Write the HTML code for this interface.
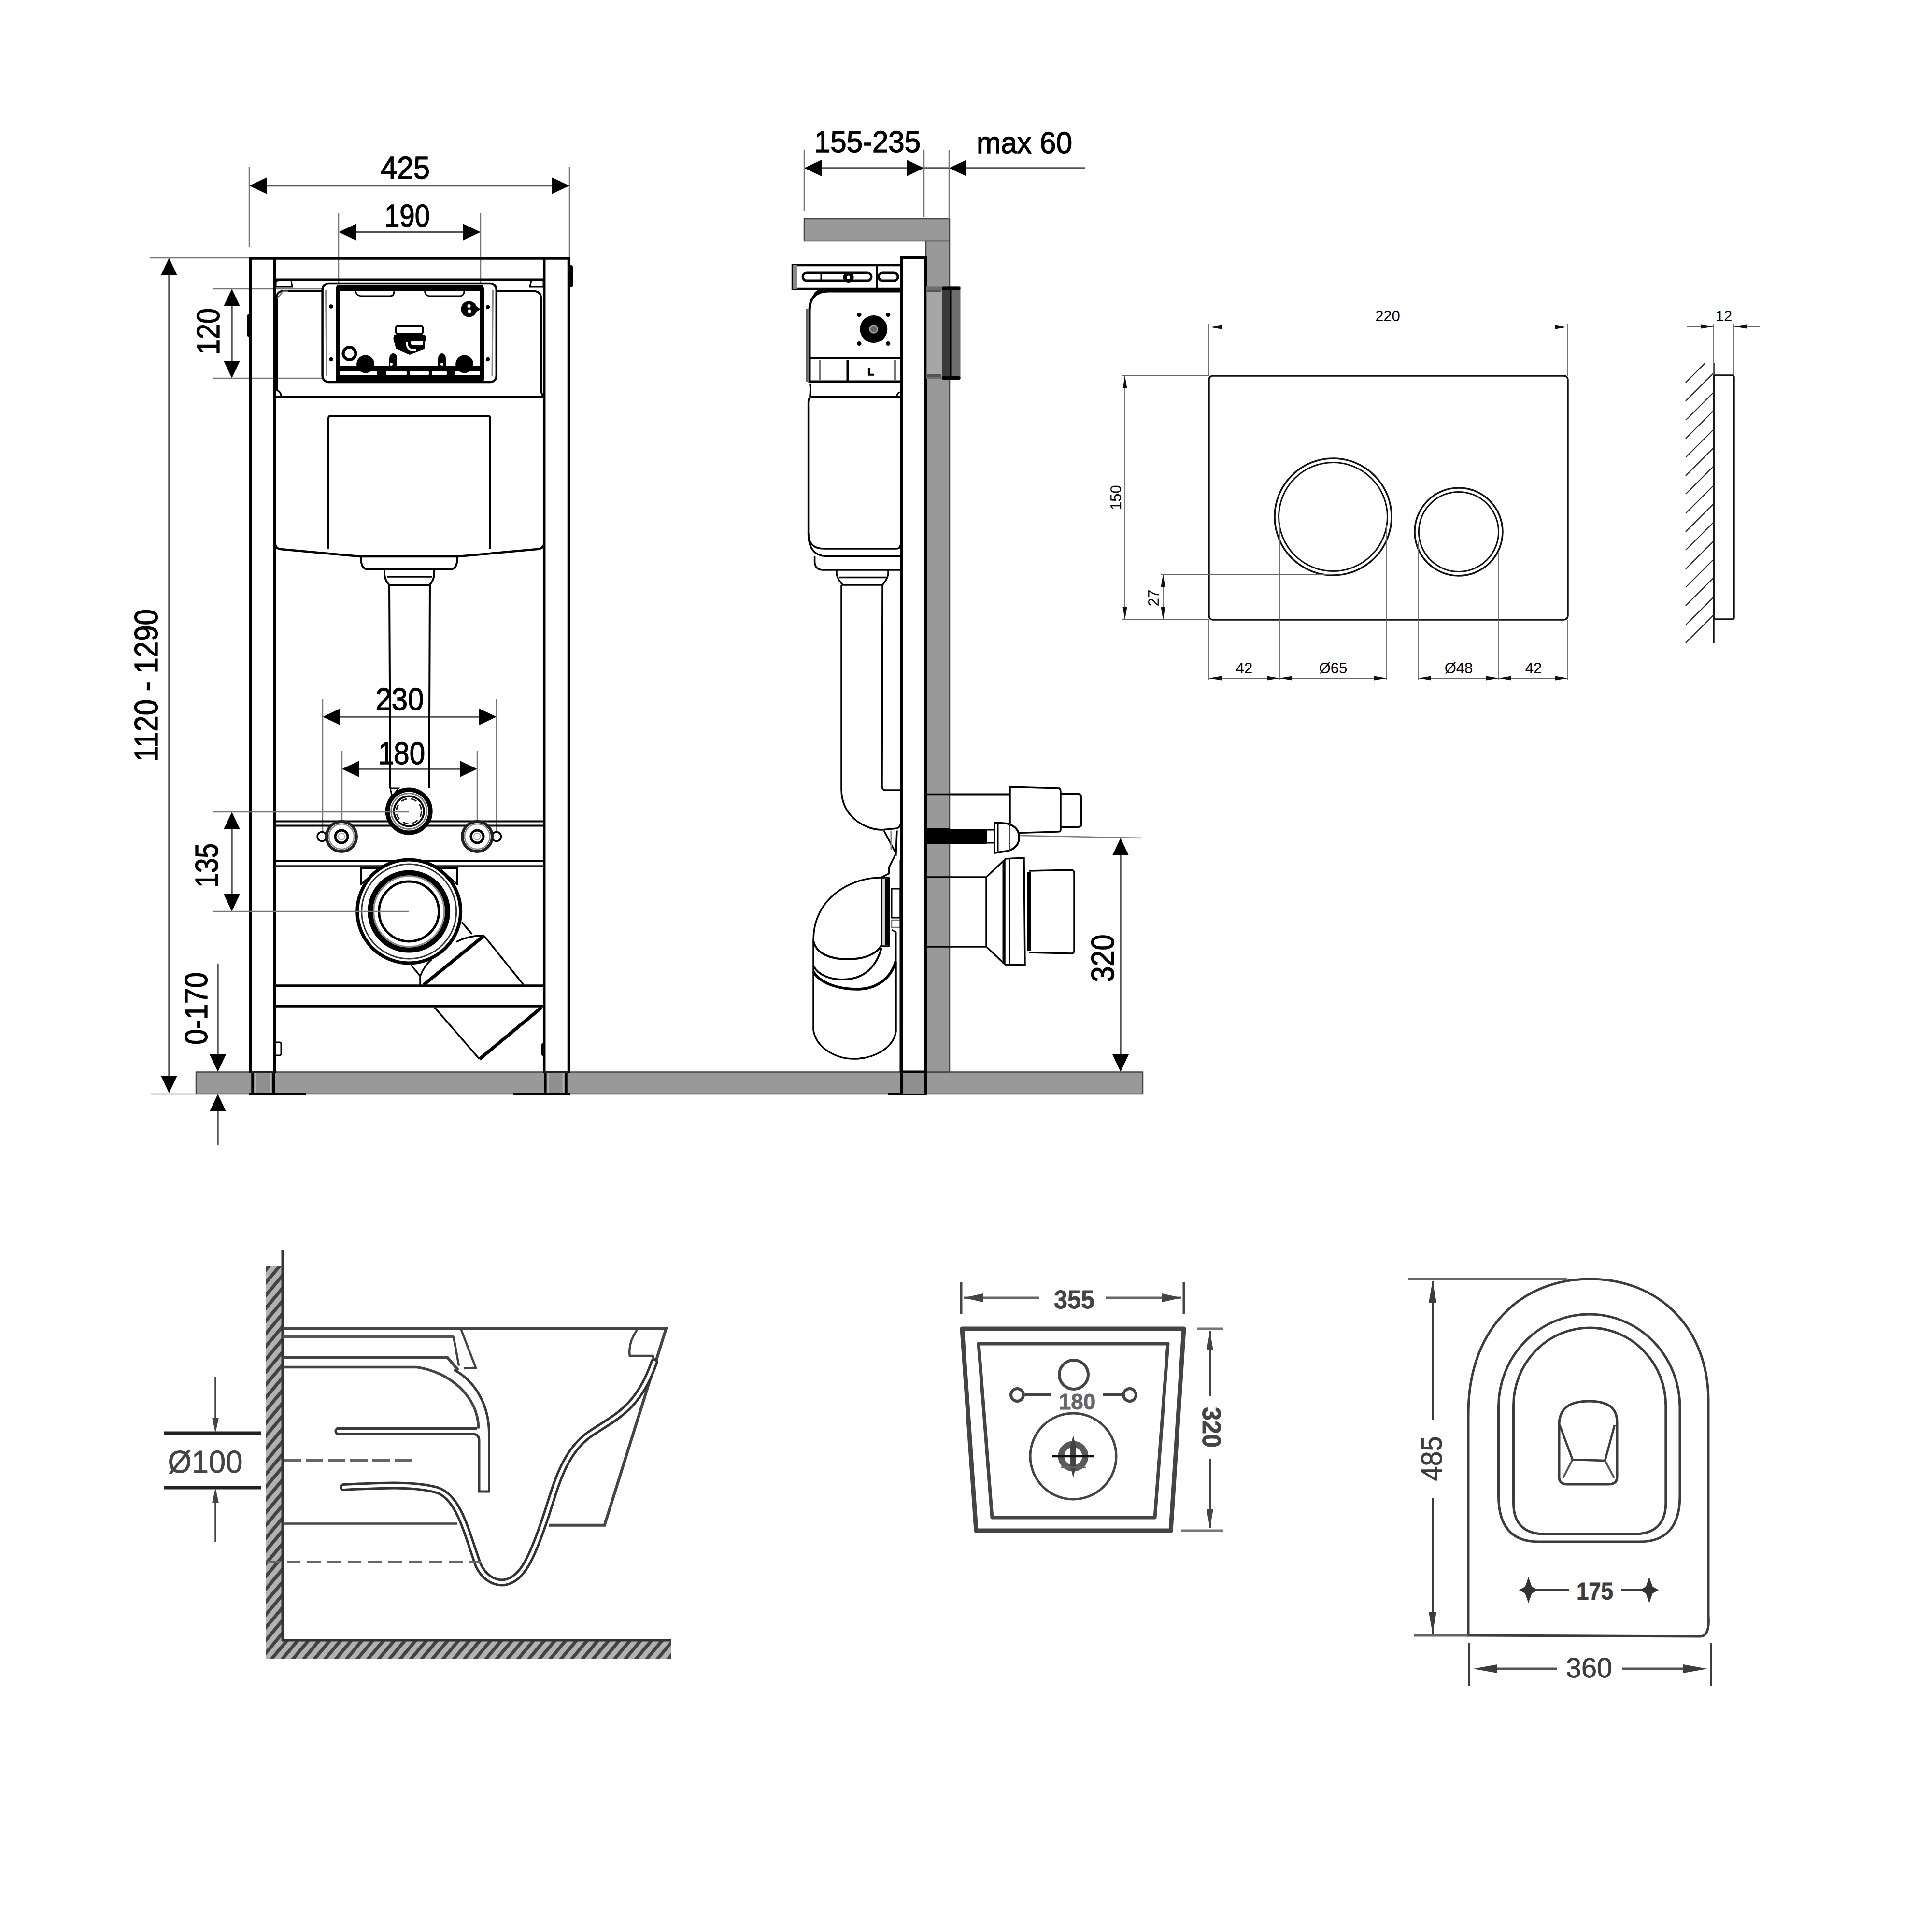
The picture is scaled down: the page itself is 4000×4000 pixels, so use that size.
<!DOCTYPE html><html><head><meta charset="utf-8"><style>html,body{margin:0;padding:0;background:#fff;}svg{display:block;}</style></head><body>
<svg width="4000" height="4000" viewBox="0 0 4000 4000" font-family="Liberation Sans, sans-serif">
<defs><pattern id="hatch" patternUnits="userSpaceOnUse" width="17" height="17" patternTransform="rotate(40)"><rect width="17" height="17" fill="#b2b2b2"/><rect width="7" height="17" fill="#434343"/></pattern></defs>
<rect width="4000" height="4000" fill="#fff"/>
<rect x="406" y="2219.5" width="1960" height="45.5" rx="0" fill="#999" stroke="#444" stroke-width="2.5" />
<line x1="534.0" y1="384.5" x2="1161.0" y2="384.5" stroke="#555" stroke-width="3.5" />
<polygon points="516.0,384.5 552.0,367.5 552.0,401.5" fill="#000"/>
<polygon points="1179.0,384.5 1143.0,401.5 1143.0,367.5" fill="#000"/>
<line x1="516" y1="346" x2="516" y2="511" stroke="#777" stroke-width="2.5" />
<line x1="1179" y1="346" x2="1179" y2="534" stroke="#777" stroke-width="2.5" />
<text x="839" y="369.5" font-size="65.5" text-anchor="middle" fill="#000" textLength="102" lengthAdjust="spacingAndGlyphs" stroke="#000" stroke-width="1.4" >425</text>
<line x1="719.0" y1="480.5" x2="977.0" y2="480.5" stroke="#555" stroke-width="3.5" />
<polygon points="701.0,480.5 737.0,463.5 737.0,497.5" fill="#000"/>
<polygon points="995.0,480.5 959.0,497.5 959.0,463.5" fill="#000"/>
<line x1="701" y1="441" x2="701" y2="602" stroke="#777" stroke-width="2.5" />
<line x1="995" y1="441" x2="995" y2="602" stroke="#777" stroke-width="2.5" />
<text x="843" y="468.5" font-size="65.5" text-anchor="middle" fill="#000" textLength="94" lengthAdjust="spacingAndGlyphs" stroke="#000" stroke-width="1.4" >190</text>
<line x1="350" y1="552.0" x2="350" y2="2245.0" stroke="#555" stroke-width="3.5" />
<polygon points="350.0,534.0 367.0,570.0 333.0,570.0" fill="#000"/>
<polygon points="350.0,2263.0 333.0,2227.0 367.0,2227.0" fill="#000"/>
<line x1="310" y1="534" x2="516" y2="534" stroke="#777" stroke-width="2.5" />
<line x1="312" y1="2265" x2="406" y2="2265" stroke="#777" stroke-width="2.5" />
<text x="326" y="1419" font-size="68" text-anchor="middle" fill="#000" transform="rotate(-90 326 1419)" textLength="316" lengthAdjust="spacingAndGlyphs" stroke="#000" stroke-width="1.4" >1120 - 1290</text>
<line x1="480" y1="616.0" x2="480" y2="765.0" stroke="#555" stroke-width="3.5" />
<polygon points="480.0,598.0 497.0,634.0 463.0,634.0" fill="#000"/>
<polygon points="480.0,783.0 463.0,747.0 497.0,747.0" fill="#000"/>
<line x1="441" y1="598" x2="668" y2="598" stroke="#777" stroke-width="2.5" />
<line x1="441" y1="783" x2="668" y2="783" stroke="#777" stroke-width="2.5" />
<text x="454" y="686" font-size="66" text-anchor="middle" fill="#000" transform="rotate(-90 454 686)" textLength="96" lengthAdjust="spacingAndGlyphs" stroke="#000" stroke-width="1.4" >120</text>
<line x1="686.0" y1="1484" x2="1010.0" y2="1484" stroke="#555" stroke-width="3.5" />
<polygon points="668.0,1484.0 704.0,1467.0 704.0,1501.0" fill="#000"/>
<polygon points="1028.0,1484.0 992.0,1501.0 992.0,1467.0" fill="#000"/>
<line x1="668" y1="1447" x2="668" y2="1731" stroke="#777" stroke-width="2.5" />
<line x1="1028" y1="1447" x2="1028" y2="1731" stroke="#777" stroke-width="2.5" />
<text x="827.5" y="1469.6" font-size="65.5" text-anchor="middle" fill="#000" textLength="100" lengthAdjust="spacingAndGlyphs" stroke="#000" stroke-width="1.4" >230</text>
<line x1="726.0" y1="1592" x2="970.0" y2="1592" stroke="#555" stroke-width="3.5" />
<polygon points="708.0,1592.0 744.0,1575.0 744.0,1609.0" fill="#000"/>
<polygon points="988.0,1592.0 952.0,1609.0 952.0,1575.0" fill="#000"/>
<line x1="708" y1="1554" x2="708" y2="1732" stroke="#777" stroke-width="2.5" />
<line x1="988" y1="1554" x2="988" y2="1732" stroke="#777" stroke-width="2.5" />
<text x="831.5" y="1582" font-size="65.5" text-anchor="middle" fill="#000" textLength="97" lengthAdjust="spacingAndGlyphs" stroke="#000" stroke-width="1.4" >180</text>
<line x1="480" y1="1699.0" x2="480" y2="1869.0" stroke="#555" stroke-width="3.5" />
<polygon points="480.0,1681.0 497.0,1717.0 463.0,1717.0" fill="#000"/>
<polygon points="480.0,1887.0 463.0,1851.0 497.0,1851.0" fill="#000"/>
<text x="451" y="1792" font-size="66" text-anchor="middle" fill="#000" transform="rotate(-90 451 1792)" textLength="92" lengthAdjust="spacingAndGlyphs" stroke="#000" stroke-width="1.4" >135</text>
<line x1="451" y1="1995" x2="451" y2="2190" stroke="#555" stroke-width="3.5" />
<polygon points="451.0,2219.0 434.0,2183.0 468.0,2183.0" fill="#000"/>
<line x1="451" y1="2290" x2="451" y2="2371" stroke="#555" stroke-width="3.5" />
<polygon points="451.0,2265.0 468.0,2301.0 434.0,2301.0" fill="#000"/>
<text x="429" y="2088" font-size="66" text-anchor="middle" fill="#000" transform="rotate(-90 429 2088)" textLength="150" lengthAdjust="spacingAndGlyphs" stroke="#000" stroke-width="1.4" >0-170</text>
<line x1="518.5" y1="532.5" x2="518.5" y2="2221" stroke="#000" stroke-width="5.5" />
<line x1="568.5" y1="532.5" x2="568.5" y2="2221" stroke="#000" stroke-width="5.5" />
<rect x="523" y="2220" width="43.299999999999955" height="45" rx="0" fill="#8f8f8f" stroke="#000" stroke-width="0" />
<line x1="523" y1="2219" x2="523" y2="2267" stroke="#000" stroke-width="5.5" />
<line x1="566.3" y1="2219" x2="566.3" y2="2267" stroke="#000" stroke-width="5.5" />
<line x1="518.5" y1="2219.5" x2="568.5" y2="2219.5" stroke="#222" stroke-width="3" />
<line x1="529" y1="2222" x2="529" y2="2262" stroke="#b5b5b5" stroke-width="2.5" />
<line x1="560.3" y1="2222" x2="560.3" y2="2262" stroke="#b5b5b5" stroke-width="2.5" />
<line x1="1126.7" y1="532.5" x2="1126.7" y2="2221" stroke="#000" stroke-width="5.5" />
<line x1="1177.5" y1="532.5" x2="1177.5" y2="2221" stroke="#000" stroke-width="5.5" />
<rect x="1128.8" y="2220" width="43.200000000000045" height="45" rx="0" fill="#8f8f8f" stroke="#000" stroke-width="0" />
<line x1="1128.8" y1="2219" x2="1128.8" y2="2267" stroke="#000" stroke-width="5.5" />
<line x1="1172" y1="2219" x2="1172" y2="2267" stroke="#000" stroke-width="5.5" />
<line x1="1126.7" y1="2219.5" x2="1177.5" y2="2219.5" stroke="#222" stroke-width="3" />
<line x1="1134.8" y1="2222" x2="1134.8" y2="2262" stroke="#b5b5b5" stroke-width="2.5" />
<line x1="1166" y1="2222" x2="1166" y2="2262" stroke="#b5b5b5" stroke-width="2.5" />
<line x1="516" y1="535" x2="1180" y2="535" stroke="#000" stroke-width="5.5" />
<line x1="516" y1="2265" x2="634" y2="2265" stroke="#000" stroke-width="5" />
<line x1="1063" y1="2265" x2="1180" y2="2265" stroke="#000" stroke-width="5" />
<rect x="512" y="650" width="8" height="48" rx="4" fill="#000" stroke="#000" stroke-width="0" />
<rect x="1177" y="549" width="9" height="46" rx="4" fill="#000" stroke="#000" stroke-width="0" />
<rect x="568" y="2158" width="14" height="27" rx="3" fill="none" stroke="#000" stroke-width="3" />
<rect x="1121" y="2160" width="6" height="26" rx="3" fill="#000" stroke="#000" stroke-width="0" />
<line x1="569" y1="579" x2="1127" y2="579" stroke="#000" stroke-width="5" />
<path d="M571,594 L571,585 Q571,580.5 578,580.5 L603,580.5 L605,594 Z" fill="none" stroke="#000" stroke-width="3" />
<path d="M1125,594 L1125,580.5 L1100,580.5 L1097,594 Z" fill="none" stroke="#000" stroke-width="3" />
<path d="M573,616 Q573,603 588,602 L668,602" fill="none" stroke="#000" stroke-width="4" />
<path d="M1028,602 L1108,603 Q1120,605 1120,616 L1120,805 Q1120,815 1126,822" fill="none" stroke="#000" stroke-width="4" />
<line x1="573" y1="612" x2="573" y2="808" stroke="#000" stroke-width="4" />
<path d="M571,808 Q580,808 583,821" fill="none" stroke="#000" stroke-width="3.5" />
<path d="M574,618 L586,603 L596,603" fill="none" stroke="#777" stroke-width="3" />
<line x1="569" y1="822" x2="1127" y2="822" stroke="#000" stroke-width="4.5" />
<rect x="667.6" y="587" width="360.2" height="204" rx="13" fill="#fff" stroke="#000" stroke-width="4.5" />
<line x1="674.5" y1="600" x2="676" y2="778" stroke="#888" stroke-width="3" />
<line x1="1020.5" y1="600" x2="1019" y2="778" stroke="#888" stroke-width="3" />
<rect x="699" y="594" width="299" height="195" rx="4" fill="#fff" stroke="#000" stroke-width="8" />
<rect x="698" y="591" width="301" height="12" rx="0" fill="#000" stroke="#000" stroke-width="0" />
<path d="M735,603 L740,610 Q743,613 750,613 L808,613 Q814,613 815.6,607 L816,603" fill="none" stroke="#000" stroke-width="3" />
<path d="M879,603 L882,610 Q885,613 892,613 L952,613 Q958,613 960.6,607 L961,603" fill="none" stroke="#000" stroke-width="3" />
<rect x="699" y="757" width="299" height="33" rx="0" fill="#000" stroke="#000" stroke-width="0" />
<rect x="703" y="768" width="78" height="9" rx="3" fill="#fff" stroke="#000" stroke-width="0" />
<rect x="799" y="768" width="43" height="9" rx="3" fill="#fff" stroke="#000" stroke-width="0" />
<rect x="848" y="768" width="40" height="9" rx="3" fill="#fff" stroke="#000" stroke-width="0" />
<rect x="894" y="768" width="31" height="9" rx="3" fill="#fff" stroke="#000" stroke-width="0" />
<rect x="941" y="768" width="53" height="9" rx="3" fill="#fff" stroke="#000" stroke-width="0" />
<circle cx="685.6" cy="634.5" r="4.2" fill="#000" stroke="#000" stroke-width="0" />
<circle cx="685.6" cy="744" r="4.2" fill="#000" stroke="#000" stroke-width="0" />
<circle cx="1010" cy="635.6" r="4.2" fill="#000" stroke="#000" stroke-width="0" />
<circle cx="1010" cy="744" r="4.2" fill="#000" stroke="#000" stroke-width="0" />
<circle cx="971" cy="640" r="16.5" fill="#000" stroke="#000" stroke-width="0" />
<path d="M984,633 L995,640 L984,647 Z" fill="#000" stroke="#000" stroke-width="0" />
<circle cx="971" cy="633.5" r="3.5" fill="#fff" stroke="#000" stroke-width="0" />
<circle cx="972" cy="644" r="3.5" fill="#fff" stroke="#000" stroke-width="0" />
<circle cx="723.5" cy="732" r="13" fill="#fff" stroke="#000" stroke-width="6" />
<circle cx="756.6" cy="754" r="18.5" fill="#000" stroke="#000" stroke-width="0" />
<circle cx="961.6" cy="754" r="18.5" fill="#000" stroke="#000" stroke-width="0" />
<path d="M806,757 L806,745 Q806,731 814,731 Q822,731 822,745 L822,757 Z" fill="#000" stroke="#000" stroke-width="0" />
<path d="M907,757 L907,745 Q907,731 915,731 Q923,731 923,745 L923,757 Z" fill="#000" stroke="#000" stroke-width="0" />
<circle cx="810" cy="754" r="3" fill="#fff" stroke="#000" stroke-width="0" />
<circle cx="915" cy="754" r="3" fill="#fff" stroke="#000" stroke-width="0" />
<rect x="820" y="674" width="55" height="18" rx="4" fill="#fff" stroke="#000" stroke-width="4" />
<path d="M816,694 L880,694 Q884,701 880,708 L880,722 L848,734 L820,722 L816,708 Q813,701 816,694 Z" fill="#000" stroke="#000" stroke-width="0" />
<path d="M842,708 Q842,725 856,725 L862,725" fill="none" stroke="#fff" stroke-width="4" />
<rect x="851" y="706" width="25" height="8" rx="2" fill="#fff" stroke="#000" stroke-width="0" />
<path d="M680,1136 L680,866 Q680,861 685,861 L1010,861 Q1015,861 1015,866 L1015,1136" fill="none" stroke="#000" stroke-width="4" />
<path d="M570,1128 Q572,1136 581,1137 L745,1152 L949,1152 L1112,1137 Q1124,1136 1126,1128" fill="none" stroke="#000" stroke-width="4.5" />
<path d="M748,1152 L748,1164 Q750,1179 764,1179 L930,1179 Q944,1179 946,1164 L946,1152" fill="none" stroke="#000" stroke-width="4" />
<path d="M796,1179 L796,1190 Q798,1204 806,1211 L889,1211 Q897,1204 899,1190 L899,1179" fill="none" stroke="#000" stroke-width="4" />
<line x1="801" y1="1194" x2="894" y2="1194" stroke="#000" stroke-width="3.5" />
<line x1="806" y1="1211" x2="808" y2="1632" stroke="#000" stroke-width="4" />
<line x1="890" y1="1211" x2="888.5" y2="1632" stroke="#000" stroke-width="4" />
<line x1="569" y1="1700.6" x2="1127" y2="1700.6" stroke="#000" stroke-width="4" />
<line x1="569" y1="1709.6" x2="1127" y2="1709.6" stroke="#000" stroke-width="4" />
<path d="M808,1632 L825,1632 L812,1650 Z" fill="#fff" stroke="#000" stroke-width="3" />
<circle cx="846.7" cy="1679.5" r="44.5" fill="#fff" stroke="#000" stroke-width="9" />
<circle cx="846.7" cy="1679.5" r="37" fill="none" stroke="#777" stroke-width="3" />
<circle cx="846.7" cy="1679.5" r="31" fill="none" stroke="#000" stroke-width="4" />
<circle cx="846.7" cy="1679.5" r="26" fill="none" stroke="#222" stroke-width="3" stroke-dasharray="12 9"/>
<circle cx="666.6" cy="1732" r="9.5" fill="#fff" stroke="#000" stroke-width="3.5" />
<circle cx="707" cy="1732" r="31" fill="#fff" stroke="#222" stroke-width="6" />
<circle cx="707" cy="1732" r="26" fill="none" stroke="#888" stroke-width="2.5" />
<circle cx="707" cy="1732" r="13" fill="#fff" stroke="#000" stroke-width="5" />
<circle cx="707" cy="1732" r="7" fill="none" stroke="#aaa" stroke-width="2" />
<circle cx="1028" cy="1732" r="9.5" fill="#fff" stroke="#000" stroke-width="3.5" />
<circle cx="988" cy="1732" r="31" fill="#fff" stroke="#222" stroke-width="6" />
<circle cx="988" cy="1732" r="26" fill="none" stroke="#888" stroke-width="2.5" />
<circle cx="988" cy="1732" r="13" fill="#fff" stroke="#000" stroke-width="5" />
<circle cx="988" cy="1732" r="7" fill="none" stroke="#aaa" stroke-width="2" />
<line x1="569" y1="1783" x2="1127" y2="1783" stroke="#000" stroke-width="4" />
<line x1="569" y1="1793.6" x2="1127" y2="1793.6" stroke="#222" stroke-width="4.5" />
<path d="M748,1832 L748,1797 L790,1797" fill="none" stroke="#000" stroke-width="4" />
<path d="M748,1830 L786,1797" fill="none" stroke="#000" stroke-width="3" />
<path d="M946,1832 L946,1797 L904,1797" fill="none" stroke="#000" stroke-width="4" />
<path d="M946,1830 L908,1797" fill="none" stroke="#000" stroke-width="3" />
<path d="M851,1998 L870,2021 L870,2039" fill="none" stroke="#000" stroke-width="3.5" />
<path d="M870,2021 Q878,2000 893,1987" fill="none" stroke="#000" stroke-width="3.5" />
<path d="M877,2039 L1000.5,1938.5" fill="none" stroke="#000" stroke-width="7" />
<path d="M944.6,1950 Q970,1937 1000.5,1937 L1003,1938.5 L1084,2039" fill="none" stroke="#000" stroke-width="3.5" />
<path d="M956,1909 L977,1934" fill="none" stroke="#000" stroke-width="3.5" />
<circle cx="846.7" cy="1887" r="107" fill="#fff" stroke="#000" stroke-width="7" />
<circle cx="846.7" cy="1887" r="98" fill="none" stroke="#333" stroke-width="3" />
<circle cx="846.7" cy="1887" r="80" fill="none" stroke="#000" stroke-width="11" />
<circle cx="846.7" cy="1887" r="73" fill="none" stroke="#888" stroke-width="3" />
<circle cx="846.7" cy="1887" r="62" fill="none" stroke="#000" stroke-width="5" />
<line x1="569" y1="2041" x2="1127" y2="2041" stroke="#000" stroke-width="5.5" />
<line x1="569" y1="2083" x2="1127" y2="2083" stroke="#000" stroke-width="5.5" />
<path d="M900,2086 L992.8,2192.8" fill="none" stroke="#000" stroke-width="3.5" />
<path d="M992.8,2192.8 L1121,2086" fill="none" stroke="#000" stroke-width="7" />
<line x1="442" y1="1681" x2="847" y2="1681" stroke="#777" stroke-width="2.5" />
<line x1="442" y1="1887" x2="847" y2="1887" stroke="#777" stroke-width="2.5" />
<rect x="1665" y="453" width="301" height="46" rx="0" fill="#999" stroke="#444" stroke-width="2.5" />
<rect x="1917" y="499" width="49" height="1720.5" rx="0" fill="#999" stroke="#444" stroke-width="2.5" />
<line x1="1683.0" y1="348" x2="1895.0" y2="348" stroke="#555" stroke-width="3.5" />
<polygon points="1665.0,348.0 1701.0,331.0 1701.0,365.0" fill="#000"/>
<polygon points="1913.0,348.0 1877.0,365.0 1877.0,331.0" fill="#000"/>
<line x1="1913" y1="348" x2="1965" y2="348" stroke="#555" stroke-width="3.5" />
<line x1="1990" y1="348" x2="2247" y2="348" stroke="#555" stroke-width="3.5" />
<polygon points="1965.0,348.0 2001.0,331.0 2001.0,365.0" fill="#000"/>
<line x1="1665" y1="310" x2="1665" y2="436" stroke="#777" stroke-width="2.5" />
<line x1="1913" y1="310" x2="1913" y2="449" stroke="#777" stroke-width="2.5" />
<line x1="1965" y1="310" x2="1965" y2="453" stroke="#777" stroke-width="2.5" />
<text x="1796" y="314.5" font-size="63.5" text-anchor="middle" fill="#000" textLength="220" lengthAdjust="spacingAndGlyphs" stroke="#000" stroke-width="1.4" >155-235</text>
<text x="2121" y="317" font-size="63.5" text-anchor="middle" fill="#000" textLength="198" lengthAdjust="spacingAndGlyphs" stroke="#000" stroke-width="1.4" >max 60</text>
<line x1="2320" y1="1753.0" x2="2320" y2="2201.0" stroke="#555" stroke-width="3.5" />
<polygon points="2320.0,1735.0 2337.0,1771.0 2303.0,1771.0" fill="#000"/>
<polygon points="2320.0,2219.0 2303.0,2183.0 2337.0,2183.0" fill="#000"/>
<path d="M2112,1730 L2363,1735" fill="none" stroke="#777" stroke-width="2.5" />
<text x="2306" y="1984" font-size="66" text-anchor="middle" fill="#000" transform="rotate(-90 2306 1984)" textLength="99" lengthAdjust="spacingAndGlyphs" stroke="#000" stroke-width="1.4" >320</text>
<rect x="1866.5" y="533.5" width="50" height="1731.5" rx="0" fill="#fff" stroke="#000" stroke-width="5.5" />
<line x1="1838" y1="2265" x2="1917" y2="2265" stroke="#000" stroke-width="5" />
<rect x="1869" y="2221" width="45" height="43" rx="0" fill="#8f8f8f" stroke="#000" stroke-width="0" />
<line x1="1866.5" y1="2219" x2="1916.5" y2="2219" stroke="#000" stroke-width="5" />
<line x1="1917" y1="1644.6" x2="1966" y2="1644.6" stroke="#000" stroke-width="3.5" />
<line x1="1917" y1="1816" x2="1966" y2="1816" stroke="#000" stroke-width="3.5" />
<line x1="1917" y1="1960" x2="1966" y2="1960" stroke="#000" stroke-width="3.5" />
<rect x="1919" y="1715" width="47" height="33" rx="0" fill="#000" stroke="#000" stroke-width="0" />
<rect x="1918" y="593.5" width="70.5" height="191.5" rx="0" fill="#6e6e6e" stroke="#000" stroke-width="0" />
<rect x="1919" y="600" width="31" height="180" rx="0" fill="#a6a6a6" stroke="#000" stroke-width="0" />
<rect x="1950" y="598" width="18" height="182" rx="0" fill="#3a3a3a" stroke="#000" stroke-width="0" />
<line x1="1968" y1="598" x2="1968" y2="780" stroke="#000" stroke-width="3" />
<rect x="1950" y="593.5" width="38.5" height="7" rx="3" fill="#000" stroke="#000" stroke-width="0" />
<rect x="1950" y="779" width="38.5" height="7" rx="3" fill="#000" stroke="#000" stroke-width="0" />
<rect x="1919" y="600" width="30" height="5" rx="0" fill="#555" stroke="#000" stroke-width="0" />
<rect x="1919" y="775" width="30" height="5" rx="0" fill="#555" stroke="#000" stroke-width="0" />
<rect x="1641" y="549" width="225" height="49" rx="0" fill="#fff" stroke="#000" stroke-width="4.5" />
<rect x="1641" y="549" width="9" height="49" rx="0" fill="#888" stroke="#000" stroke-width="0" />
<line x1="1815" y1="551" x2="1815" y2="596" stroke="#000" stroke-width="4" />
<rect x="1662" y="565" width="142" height="16" rx="8" fill="#fff" stroke="#000" stroke-width="5" />
<circle cx="1756.6" cy="574" r="11" fill="#000" stroke="#000" stroke-width="0" />
<circle cx="1756.6" cy="574" r="3.5" fill="#fff" stroke="#000" stroke-width="0" />
<rect x="1819" y="565" width="40" height="16" rx="8" fill="#fff" stroke="#000" stroke-width="5" />
<line x1="1700" y1="566" x2="1700" y2="580" stroke="#000" stroke-width="3" />
<path d="M1676,793 L1676,643 Q1676,603 1716,603 L1864,603" fill="none" stroke="#000" stroke-width="5" />
<path d="M1686,610 Q1690,600 1716,598" fill="none" stroke="#000" stroke-width="4" />
<line x1="1671" y1="640" x2="1671" y2="790" stroke="#666" stroke-width="4" />
<circle cx="1808.8" cy="681.5" r="28.5" fill="#000" stroke="#000" stroke-width="0" />
<circle cx="1808.8" cy="681.5" r="8" fill="#666" stroke="#aaa" stroke-width="2.5" />
<circle cx="1779" cy="651.5" r="4.5" fill="#000" stroke="#000" stroke-width="0" />
<circle cx="1838.8" cy="651.5" r="4.5" fill="#000" stroke="#000" stroke-width="0" />
<circle cx="1779" cy="711.5" r="4.5" fill="#000" stroke="#000" stroke-width="0" />
<circle cx="1838.8" cy="711.5" r="4.5" fill="#000" stroke="#000" stroke-width="0" />
<line x1="1676" y1="741.5" x2="1864" y2="741.5" stroke="#000" stroke-width="5" />
<line x1="1676" y1="790" x2="1864" y2="790" stroke="#000" stroke-width="5" />
<line x1="1697" y1="745" x2="1697" y2="788" stroke="#777" stroke-width="4" />
<line x1="1755" y1="745" x2="1755" y2="788" stroke="#000" stroke-width="5" />
<line x1="1853" y1="745" x2="1853" y2="788" stroke="#777" stroke-width="4" />
<text x="1803" y="777" font-size="22" text-anchor="middle" fill="#000" stroke="#000" stroke-width="1.4" font-weight="bold">L</text>
<path d="M1677,794 Q1679,805 1677,822" fill="none" stroke="#000" stroke-width="4" />
<path d="M1856,822 Q1858,812 1864,812" fill="none" stroke="#000" stroke-width="3" />
<path d="M1864,821.4 L1683,821.4 Q1673.6,822 1673.6,832 L1673.6,1104 Q1673.6,1136 1706,1136 L1856,1136 Q1864,1136 1864,1128" fill="none" stroke="#000" stroke-width="3.5" />
<path d="M1673.6,1104 Q1673.6,1150 1710,1151.5 L1864,1151.5" fill="none" stroke="#000" stroke-width="3.5" />
<path d="M1686.6,1151.5 L1686.6,1164 Q1688,1180 1704,1180 L1864,1180" fill="none" stroke="#000" stroke-width="3.5" />
<path d="M1732,1180 L1732,1188 Q1734,1200 1745,1211 L1827,1211 Q1837,1200 1839,1188 L1839,1180" fill="none" stroke="#000" stroke-width="3.5" />
<line x1="1737" y1="1195.5" x2="1834" y2="1195.5" stroke="#000" stroke-width="3.5" />
<path d="M1742,1211 L1742,1634 C1742,1690 1790,1718 1826,1718 L1857,1715 Q1864,1712 1864,1707" fill="none" stroke="#000" stroke-width="3.5" />
<path d="M1827,1211 L1826,1628 Q1826,1636 1834,1636 L1864,1636" fill="none" stroke="#000" stroke-width="3.5" />
<path d="M1830,1719.5 L1855,1767 L1857,1719.5" fill="none" stroke="#000" stroke-width="3.5" />
<path d="M1855,1767 L1840.5,1796 L1840.5,1808.5 L1824,1817" fill="none" stroke="#000" stroke-width="3.5" />
<line x1="1845" y1="1720" x2="1845" y2="1760" stroke="#888" stroke-width="3" />
<path d="M1684,1946 C1684,1860 1760,1817 1823,1817" fill="none" stroke="#000" stroke-width="3.5" />
<path d="M1684,1948 C1690,1975 1720,1986 1755,1986 C1790,1986 1815,1975 1825,1957" fill="none" stroke="#000" stroke-width="4" />
<path d="M1684,2000 C1695,2020 1720,2028 1745,2028 C1790,2028 1815,2000 1825,1962" fill="none" stroke="#000" stroke-width="4" />
<path d="M1684,2012 C1700,2038 1740,2048 1775,2048 C1815,2048 1845,2025 1854,1991" fill="none" stroke="#000" stroke-width="5.5" />
<path d="M1684,1946 L1684,2133 C1690,2170 1730,2192 1768,2192 C1810,2192 1850,2170 1855,2135 L1855,1991" fill="none" stroke="#000" stroke-width="3.5" />
<rect x="1825" y="1817" width="15" height="142" rx="0" fill="#cfcfcf" stroke="#000" stroke-width="3.5" />
<rect x="1832" y="1819" width="8" height="138" rx="0" fill="#000" stroke="#000" stroke-width="0" />
<line x1="1840.5" y1="1817" x2="1840.5" y2="1959" stroke="#000" stroke-width="4.5" />
<rect x="1846" y="1840" width="18" height="60" rx="0" fill="#fff" stroke="#000" stroke-width="3" />
<rect x="1846" y="1905" width="18" height="15" rx="0" fill="#fff" stroke="#777" stroke-width="2.5" />
<path d="M1846,1925 L1855,1930 L1855,1991" fill="none" stroke="#000" stroke-width="3" />
<line x1="1864" y1="1780" x2="1864" y2="2219" stroke="#000" stroke-width="3" />
<line x1="1966" y1="1644.6" x2="2091" y2="1644.6" stroke="#000" stroke-width="4" />
<path d="M2091,1629 L2193,1632 Q2196,1634 2196,1640 L2196,1718 Q2196,1722 2190,1722 L2091,1725 Z" fill="#fff" stroke="#000" stroke-width="3.5" />
<path d="M2196,1643.5 L2234,1644 Q2239,1646 2239,1652 L2239,1706 Q2239,1712 2232,1712 L2196,1712" fill="none" stroke="#000" stroke-width="4" />
<rect x="1919.6" y="1716" width="123" height="31" rx="0" fill="#000" stroke="#000" stroke-width="0" />
<rect x="2042" y="1718" width="17" height="27" rx="0" fill="#fff" stroke="#000" stroke-width="3" />
<path d="M2059,1703 L2085,1705 Q2110,1712 2110,1733 Q2110,1756 2085,1762 L2059,1766 Z" fill="#fff" stroke="#000" stroke-width="4" />
<line x1="2066" y1="1705" x2="2066" y2="1764" stroke="#000" stroke-width="3" />
<line x1="2090" y1="1707" x2="2090" y2="1760" stroke="#444" stroke-width="2.5" />
<line x1="1966" y1="1816" x2="2042" y2="1816" stroke="#000" stroke-width="3.5" />
<line x1="1966" y1="1960" x2="2042" y2="1960" stroke="#000" stroke-width="3.5" />
<path d="M2042,1816 L2042,1960 L2080,1996 L2080,1780 Z" fill="#fff" stroke="#000" stroke-width="3.5" />
<path d="M2080,1778 L2120,1776 L2122,1998 L2080,1997" fill="none" stroke="#000" stroke-width="3.5" />
<line x1="2077" y1="1782" x2="2077" y2="1995" stroke="#000" stroke-width="3" />
<line x1="2090" y1="1779" x2="2090" y2="1997" stroke="#000" stroke-width="3" />
<rect x="2126" y="1806" width="8" height="163" rx="0" fill="#000" stroke="#000" stroke-width="0" />
<path d="M2130,1803 L2220,1801 Q2224,1803 2224,1808 L2224,1968 Q2224,1974 2218,1974 L2130,1972" fill="none" stroke="#000" stroke-width="3.5" />
<rect x="2503" y="778" width="743" height="505" rx="8" fill="none" stroke="#111" stroke-width="3.5" />
<circle cx="2760" cy="1070" r="121" fill="none" stroke="#111" stroke-width="3.5" />
<circle cx="2760" cy="1070" r="112.5" fill="none" stroke="#111" stroke-width="3" />
<circle cx="3020" cy="1101" r="91" fill="none" stroke="#111" stroke-width="3.5" />
<circle cx="3020" cy="1101" r="82.6" fill="none" stroke="#111" stroke-width="3" />
<line x1="2503" y1="677" x2="3246" y2="677" stroke="#666" stroke-width="1.8" />
<polygon points="2503.0,677.0 2529.0,672.5 2529.0,681.5" fill="#111"/>
<polygon points="3246.0,677.0 3220.0,681.5 3220.0,672.5" fill="#111"/>
<line x1="2503" y1="671" x2="2503" y2="778" stroke="#666" stroke-width="1.8" />
<line x1="3246" y1="671" x2="3246" y2="778" stroke="#666" stroke-width="1.8" />
<text x="2873" y="665" font-size="31" text-anchor="middle" fill="#000" >220</text>
<line x1="2329" y1="778" x2="2329" y2="1283" stroke="#666" stroke-width="1.8" />
<polygon points="2329.0,778.0 2333.5,804.0 2324.5,804.0" fill="#111"/>
<polygon points="2329.0,1283.0 2324.5,1257.0 2333.5,1257.0" fill="#111"/>
<line x1="2324" y1="778" x2="2503" y2="778" stroke="#666" stroke-width="1.8" />
<line x1="2324" y1="1283" x2="2503" y2="1283" stroke="#666" stroke-width="1.8" />
<text x="2321" y="1030" font-size="31" text-anchor="middle" fill="#000" transform="rotate(-90 2321 1030)" >150</text>
<line x1="2408" y1="1189" x2="2408" y2="1283" stroke="#666" stroke-width="1.8" />
<polygon points="2408.0,1189.0 2412.5,1215.0 2403.5,1215.0" fill="#111"/>
<polygon points="2408.0,1283.0 2403.5,1257.0 2412.5,1257.0" fill="#111"/>
<line x1="2404" y1="1189" x2="2760" y2="1189" stroke="#666" stroke-width="1.8" />
<text x="2399" y="1238" font-size="31" text-anchor="middle" fill="#000" transform="rotate(-90 2399 1238)" >27</text>
<line x1="2503" y1="1404" x2="2649" y2="1404" stroke="#666" stroke-width="1.8" />
<polygon points="2503.0,1404.0 2529.0,1399.5 2529.0,1408.5" fill="#111"/>
<polygon points="2649.0,1404.0 2623.0,1408.5 2623.0,1399.5" fill="#111"/>
<line x1="2649" y1="1404" x2="2871" y2="1404" stroke="#666" stroke-width="1.8" />
<polygon points="2649.0,1404.0 2675.0,1399.5 2675.0,1408.5" fill="#111"/>
<polygon points="2871.0,1404.0 2845.0,1408.5 2845.0,1399.5" fill="#111"/>
<line x1="2937" y1="1404" x2="3103" y2="1404" stroke="#666" stroke-width="1.8" />
<polygon points="2937.0,1404.0 2963.0,1399.5 2963.0,1408.5" fill="#111"/>
<polygon points="3103.0,1404.0 3077.0,1408.5 3077.0,1399.5" fill="#111"/>
<line x1="3103" y1="1404" x2="3246" y2="1404" stroke="#666" stroke-width="1.8" />
<polygon points="3103.0,1404.0 3129.0,1399.5 3129.0,1408.5" fill="#111"/>
<polygon points="3246.0,1404.0 3220.0,1408.5 3220.0,1399.5" fill="#111"/>
<line x1="2649" y1="1087" x2="2649" y2="1408" stroke="#666" stroke-width="1.8" />
<line x1="2871" y1="1087" x2="2871" y2="1408" stroke="#666" stroke-width="1.8" />
<line x1="2937" y1="1121" x2="2937" y2="1408" stroke="#666" stroke-width="1.8" />
<line x1="3103" y1="1144" x2="3103" y2="1408" stroke="#666" stroke-width="1.8" />
<line x1="2503" y1="1283" x2="2503" y2="1408" stroke="#666" stroke-width="1.8" />
<line x1="3246" y1="1283" x2="3246" y2="1408" stroke="#666" stroke-width="1.8" />
<text x="2576" y="1394" font-size="31" text-anchor="middle" fill="#000" >42</text>
<text x="2760" y="1394" font-size="31" text-anchor="middle" fill="#000" >Ø65</text>
<text x="3020" y="1394" font-size="31" text-anchor="middle" fill="#000" >Ø48</text>
<text x="3175" y="1394" font-size="31" text-anchor="middle" fill="#000" >42</text>
<line x1="3548" y1="752" x2="3548" y2="1331" stroke="#111" stroke-width="3.5" />
<rect x="3548" y="777" width="42" height="505" rx="3" fill="none" stroke="#111" stroke-width="3.5" />
<line x1="3490" y1="792" x2="3530" y2="752" stroke="#222" stroke-width="2.2" />
<line x1="3490" y1="830" x2="3548" y2="772" stroke="#222" stroke-width="2.2" />
<line x1="3490" y1="870" x2="3548" y2="812" stroke="#222" stroke-width="2.2" />
<line x1="3490" y1="908" x2="3548" y2="850" stroke="#222" stroke-width="2.2" />
<line x1="3490" y1="947" x2="3548" y2="889" stroke="#222" stroke-width="2.2" />
<line x1="3490" y1="985" x2="3548" y2="927" stroke="#222" stroke-width="2.2" />
<line x1="3490" y1="1023" x2="3548" y2="965" stroke="#222" stroke-width="2.2" />
<line x1="3490" y1="1063" x2="3548" y2="1005" stroke="#222" stroke-width="2.2" />
<line x1="3490" y1="1101" x2="3548" y2="1043" stroke="#222" stroke-width="2.2" />
<line x1="3490" y1="1139" x2="3548" y2="1081" stroke="#222" stroke-width="2.2" />
<line x1="3490" y1="1178" x2="3548" y2="1120" stroke="#222" stroke-width="2.2" />
<line x1="3490" y1="1216" x2="3548" y2="1158" stroke="#222" stroke-width="2.2" />
<line x1="3490" y1="1254" x2="3548" y2="1196" stroke="#222" stroke-width="2.2" />
<line x1="3490" y1="1294" x2="3548" y2="1236" stroke="#222" stroke-width="2.2" />
<line x1="3490" y1="1331" x2="3548" y2="1273" stroke="#222" stroke-width="2.2" />
<line x1="3493" y1="676" x2="3548" y2="676" stroke="#666" stroke-width="1.8" />
<polygon points="3548.0,676.0 3522.0,680.5 3522.0,671.5" fill="#111"/>
<line x1="3590" y1="676" x2="3644" y2="676" stroke="#666" stroke-width="1.8" />
<polygon points="3590.0,676.0 3616.0,671.5 3616.0,680.5" fill="#111"/>
<line x1="3548" y1="671" x2="3548" y2="777" stroke="#666" stroke-width="1.8" />
<line x1="3590" y1="671" x2="3590" y2="777" stroke="#666" stroke-width="1.8" />
<text x="3569" y="665" font-size="31" text-anchor="middle" fill="#000" >12</text>
<rect x="550" y="2621" width="36" height="813" rx="0" fill="url(#hatch)" stroke="#000" stroke-width="0" />
<rect x="550" y="3397" width="839" height="37" rx="0" fill="url(#hatch)" stroke="#000" stroke-width="0" />
<line x1="585" y1="2589" x2="585" y2="3398" stroke="#333" stroke-width="5" />
<line x1="583" y1="3396" x2="1389" y2="3396" stroke="#333" stroke-width="5" />
<path d="M585,2751 L1379,2751 L1251.6,3157.7 L1137,3157.7" fill="none" stroke="#444" stroke-width="6" />
<line x1="585" y1="3154.5" x2="946" y2="3154.5" stroke="#444" stroke-width="4.5" />
<line x1="585" y1="2767.5" x2="939" y2="2767.5" stroke="#555" stroke-width="5" />
<path d="M939,2767.5 L950,2827.6" fill="none" stroke="#444" stroke-width="4.5" />
<path d="M954.4,2752 L985,2831.8 L960,2833" fill="none" stroke="#444" stroke-width="4.5" />
<path d="M585,2810.8 L926.5,2810.8 L948.8,2837" fill="none" stroke="#444" stroke-width="6" />
<path d="M585,2830.4 L862,2830.4 C930,2840 990,2890 990.7,2957.5" fill="none" stroke="#444" stroke-width="5.5" />
<path d="M940,2836 C985,2860 1012,2910 1012.5,2966 L1012.5,3088 L992,3088 L992,2982.6 Q992,2968.7 976.8,2968.7 L698,2968.7 Q691.8,2963 698,2957.5 L988,2957.5" fill="none" stroke="#3a3a3a" stroke-width="5" />
<path d="M1319.7,2752 Q1300,2780 1303.8,2807 L1351.6,2807 L1354.5,2821" fill="none" stroke="#444" stroke-width="4.5" />
<path d="M711,3079 C800,3075 860,3072 905,3085 C950,3100 965,3170 990,3240 C1005,3272 1030,3278 1045,3276 C1080,3270 1100,3230 1130,3140 C1150,3080 1165,3010 1220,2970 C1270,2935 1320,2920 1354.5,2820" fill="none" stroke="#333" stroke-width="16" stroke-linecap="round"/>
<path d="M711,3079 C800,3075 860,3072 905,3085 C950,3100 965,3170 990,3240 C1005,3272 1030,3278 1045,3276 C1080,3270 1100,3230 1130,3140 C1150,3080 1165,3010 1220,2970 C1270,2935 1320,2920 1354.5,2820" fill="none" stroke="#fff" stroke-width="6" stroke-linecap="round"/>
<line x1="339" y1="2967" x2="541" y2="2967" stroke="#222" stroke-width="7" />
<line x1="339" y1="3080" x2="541" y2="3080" stroke="#222" stroke-width="7" />
<line x1="446" y1="2851" x2="446" y2="2940" stroke="#444" stroke-width="3.5" />
<polygon points="446.0,2967.0 439.0,2935.0 453.0,2935.0" fill="#444"/>
<line x1="446" y1="3107" x2="446" y2="3193" stroke="#444" stroke-width="3.5" />
<polygon points="446.0,3080.0 453.0,3112.0 439.0,3112.0" fill="#444"/>
<text x="425" y="3049" font-size="64" text-anchor="middle" fill="#444" textLength="155" lengthAdjust="spacingAndGlyphs" stroke="#444" stroke-width="0.8" >Ø100</text>
<line x1="587" y1="3023" x2="861" y2="3023" stroke="#666" stroke-width="6" stroke-dasharray="36 10"/>
<line x1="552" y1="3234" x2="996" y2="3234" stroke="#666" stroke-width="6" stroke-dasharray="28 14"/>
<path d="M1992,2751 L2451,2751 L2424,3169 L2021,3169 Z" fill="none" stroke="#444" stroke-width="9" stroke-linejoin="round"/>
<path d="M2026,2782 L2418,2782 L2391,3142 L2054,3142 Z" fill="none" stroke="#444" stroke-width="7" stroke-linejoin="round"/>
<circle cx="2223" cy="2846" r="30" fill="none" stroke="#444" stroke-width="6" />
<circle cx="2106" cy="2888" r="13" fill="none" stroke="#444" stroke-width="6" />
<circle cx="2339" cy="2888" r="13" fill="none" stroke="#444" stroke-width="6" />
<line x1="2122" y1="2888" x2="2175" y2="2888" stroke="#444" stroke-width="6" />
<line x1="2283" y1="2888" x2="2323" y2="2888" stroke="#444" stroke-width="6" />
<text x="2230" y="2918" font-size="46" text-anchor="middle" fill="#666" textLength="76" lengthAdjust="spacingAndGlyphs" stroke="#666" stroke-width="0.8" font-weight="bold">180</text>
<circle cx="2222" cy="3015" r="89" fill="none" stroke="#444" stroke-width="5" />
<circle cx="2222" cy="3015" r="25" fill="none" stroke="#5a5a5a" stroke-width="13" />
<polygon points="2222,2972 2228,2995 2228,3035 2222,3060 2216,3035 2216,2995" fill="#444"/>
<line x1="2178" y1="3015" x2="2266" y2="3015" stroke="#111" stroke-width="4.5" />
<line x1="2196" y1="3038" x2="2248" y2="3038" stroke="#666" stroke-width="3" />
<line x1="1995" y1="2687" x2="2152" y2="2687" stroke="#666" stroke-width="5" />
<line x1="2290" y1="2687" x2="2446" y2="2687" stroke="#666" stroke-width="5" />
<polygon points="1995.0,2687.0 2035.0,2678.0 2035.0,2696.0" fill="#444"/>
<polygon points="2446.0,2687.0 2406.0,2696.0 2406.0,2678.0" fill="#444"/>
<line x1="1990" y1="2654" x2="1990" y2="2721" stroke="#444" stroke-width="5" />
<line x1="2451" y1="2654" x2="2451" y2="2721" stroke="#444" stroke-width="5" />
<text x="2224" y="2709" font-size="53" text-anchor="middle" fill="#444" textLength="84" lengthAdjust="spacingAndGlyphs" stroke="#444" stroke-width="0.8" font-weight="bold">355</text>
<line x1="2505" y1="2756" x2="2505" y2="2890" stroke="#444" stroke-width="4" />
<line x1="2505" y1="3020" x2="2505" y2="3164" stroke="#444" stroke-width="4" />
<polygon points="2505.0,2756.0 2512.0,2796.0 2498.0,2796.0" fill="#444"/>
<polygon points="2505.0,3164.0 2498.0,3124.0 2512.0,3124.0" fill="#444"/>
<line x1="2478" y1="2751" x2="2532" y2="2751" stroke="#777" stroke-width="5" />
<line x1="2445" y1="3169" x2="2532" y2="3169" stroke="#777" stroke-width="5" />
<text x="2490" y="2955" font-size="53" text-anchor="middle" fill="#444" transform="rotate(90 2490 2955)" textLength="84" lengthAdjust="spacingAndGlyphs" stroke="#444" stroke-width="0.8" font-weight="bold">320</text>
<path d="M3040,3386 L3040,2926 C3040,2750 3150,2648 3292,2648 C3435,2648 3537,2750 3537,2900 L3537,3346 Q3540,3388 3520,3388 Z" fill="none" stroke="#3c3c3c" stroke-width="5" />
<path d="M3102.5,2913 A187.75,192 0 0 1 3478,2913 L3478,3097 C3478,3160 3450,3192 3395,3192 L3185,3192 C3130,3192 3102.5,3160 3102.5,3097 Z" fill="none" stroke="#3c3c3c" stroke-width="5" />
<path d="M3133.5,2910 A157.65,161 0 0 1 3448.8,2910 L3448.8,3112 C3448.8,3155 3425,3176 3385,3176 L3197,3176 C3157,3176 3133.5,3155 3133.5,3112 Z" fill="none" stroke="#3c3c3c" stroke-width="5" />
<path d="M3228,2950 C3228,2915 3250,2901 3290,2901 C3330,2901 3348,2915 3348,2945 L3348,3058 Q3348,3073 3330,3073 L3245,3073 Q3228,3073 3228,3058 Z" fill="none" stroke="#3c3c3c" stroke-width="5" />
<path d="M3229,2950 L3255.8,3022 L3323,3024 L3343,2950" fill="none" stroke="#3c3c3c" stroke-width="4.5" />
<path d="M3255.8,3022 L3236,3060 M3323,3024 L3342,3060" fill="none" stroke="#555" stroke-width="4" />
<line x1="2966" y1="2652" x2="2966" y2="2939" stroke="#3c3c3c" stroke-width="4" />
<line x1="2966" y1="3102" x2="2966" y2="3382" stroke="#3c3c3c" stroke-width="4" />
<polygon points="2966.0,2652.0 2974.0,2697.0 2958.0,2697.0" fill="#3c3c3c"/>
<polygon points="2966.0,3382.0 2958.0,3337.0 2974.0,3337.0" fill="#3c3c3c"/>
<line x1="2915" y1="2648" x2="3244" y2="2648" stroke="#666" stroke-width="5" />
<line x1="2927" y1="3386" x2="3040" y2="3386" stroke="#666" stroke-width="5" />
<text x="2985" y="3020" font-size="62" text-anchor="middle" fill="#3c3c3c" transform="rotate(-90 2985 3020)" textLength="93" lengthAdjust="spacingAndGlyphs" stroke="#3c3c3c" stroke-width="0.8" >485</text>
<line x1="3175" y1="3292" x2="3248" y2="3292" stroke="#3c3c3c" stroke-width="5" />
<line x1="3356.5" y1="3292" x2="3403.6" y2="3292" stroke="#3c3c3c" stroke-width="5" />
<polygon points="3144.5,3292 3157.5,3285 3164.5,3265 3171.5,3285 3184.5,3292 3171.5,3299 3164.5,3319 3157.5,3299" fill="#333"/>
<polygon points="3394.5,3292 3407.5,3285 3414.5,3265 3421.5,3285 3434.5,3292 3421.5,3299 3414.5,3319 3407.5,3299" fill="#333"/>
<text x="3302" y="3312" font-size="50" text-anchor="middle" fill="#3c3c3c" textLength="76" lengthAdjust="spacingAndGlyphs" stroke="#3c3c3c" stroke-width="0.8" font-weight="bold">175</text>
<line x1="3041" y1="3402" x2="3041" y2="3490" stroke="#3c3c3c" stroke-width="4" />
<line x1="3543" y1="3402" x2="3543" y2="3490" stroke="#3c3c3c" stroke-width="4" />
<line x1="3099" y1="3455" x2="3224" y2="3455" stroke="#555" stroke-width="5" />
<line x1="3358" y1="3455" x2="3487" y2="3455" stroke="#555" stroke-width="5" />
<polygon points="3050.0,3455.0 3100.0,3446.0 3100.0,3464.0" fill="#3c3c3c"/>
<polygon points="3535.0,3455.0 3485.0,3464.0 3485.0,3446.0" fill="#3c3c3c"/>
<text x="3290" y="3473" font-size="58" text-anchor="middle" fill="#3c3c3c" textLength="96" lengthAdjust="spacingAndGlyphs" stroke="#3c3c3c" stroke-width="0.8" >360</text>
</svg></body></html>
